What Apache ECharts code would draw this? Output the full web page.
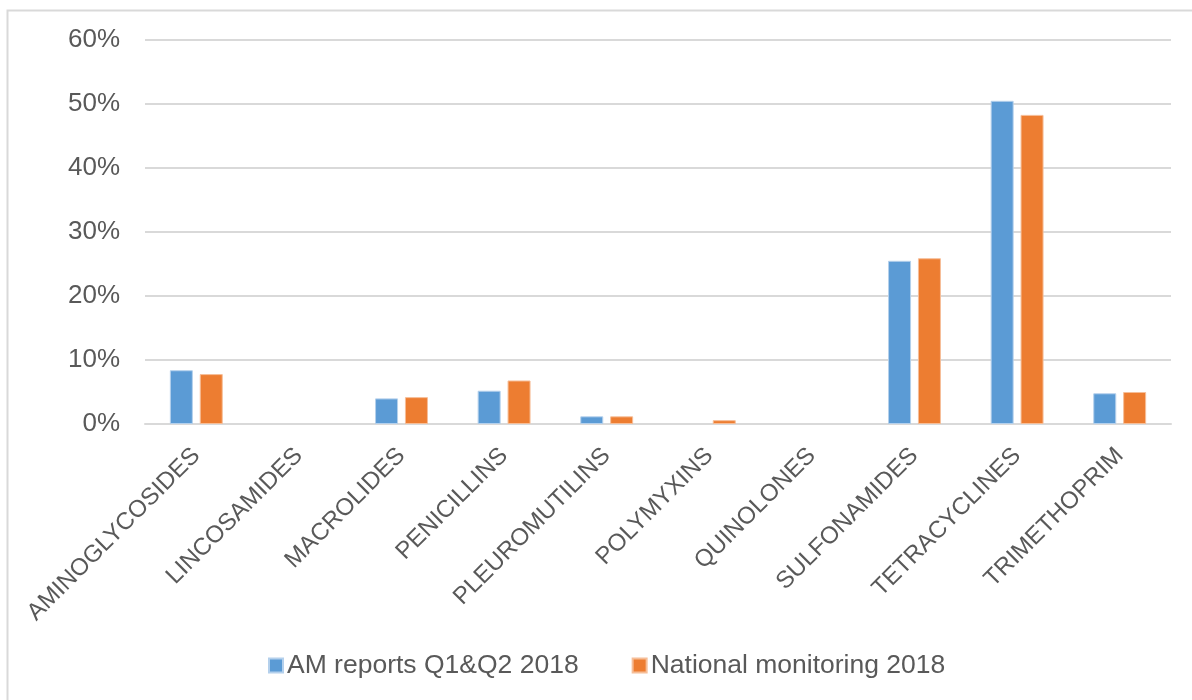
<!DOCTYPE html>
<html>
<head>
<meta charset="utf-8">
<script src="https://cdn.jsdelivr.net/npm/echarts@6/dist/echarts.min.js"></script>
<style>
  html, body { margin: 0; padding: 0; background: #ffffff; }
  #chart { width: 1192px; height: 700px; }
</style>
</head>
<body>
<div id="chart"></div>
<script>
// Antimicrobial classes (share of total use, %)
const categories = ['AMINOGLYCOSIDES', 'LINCOSAMIDES', 'MACROLIDES', 'PENICILLINS', 'PLEUROMUTILINS',
  'POLYMYXINS', 'QUINOLONES', 'SULFONAMIDES', 'TETRACYCLINES', 'TRIMETHOPRIM'];
const amReports = [8.4, 0, 4.0, 5.2, 1.2, 0, 0, 25.5, 50.5, 4.8];
const nationalMonitoring = [7.8, 0, 4.2, 6.8, 1.2, 0.6, 0, 25.9, 48.3, 5.0];
const seriesNames = ['AM reports Q1&Q2 2018', 'National monitoring 2018'];
const yTicks = { min: 0, max: 60, interval: 10 };

const chart = echarts.init(document.getElementById('chart'));
const textColor = '#595959';
const gridColor = '#d9d9d9';
const font = '"Liberation Sans", Arial, sans-serif';

// zero-height bars get no outline so nothing shows on the baseline
const barData = values => values.map(v => (v === 0 ? { value: v, itemStyle: { borderWidth: 0 } } : v));

chart.setOption({
  animation: false,
  backgroundColor: '#ffffff',
  graphic: [{
    type: 'rect',
    shape: { x: 7.5, y: 10.5, width: 1200, height: 700 },
    style: { fill: 'none', stroke: gridColor, lineWidth: 2 },
    silent: true
  }],
  grid: { left: 145, right: 21, top: 40, bottom: 276, containLabel: false },
  legend: {
    top: 652,
    left: 268,
    padding: 0,
    itemWidth: 14,
    itemHeight: 14,
    itemGap: 53,
    icon: 'rect',
    textStyle: { color: textColor, fontSize: 26.5, fontFamily: font, padding: [0, 0, 0, -1] },
    data: seriesNames
  },
  xAxis: {
    type: 'category',
    data: categories,
    axisLine: { lineStyle: { color: gridColor, width: 2 } },
    axisTick: { show: false },
    axisLabel: {
      rotate: 45, color: textColor, fontSize: 24, fontFamily: font,
      margin: 28, interval: 0
    }
  },
  yAxis: {
    type: 'value',
    min: yTicks.min,
    max: yTicks.max,
    interval: yTicks.interval,
    axisLine: { show: false },
    axisTick: { show: false },
    splitLine: { lineStyle: { color: gridColor, width: 2 } },
    axisLabel: { formatter: '{value}%', color: textColor, fontSize: 26, fontFamily: font, margin: 25 }
  },
  series: [
    {
      name: seriesNames[0],
      type: 'bar',
      data: barData(amReports),
      barWidth: 23,
      barGap: '30%',
      itemStyle: { color: '#5b9bd5', borderColor: '#b4d0ec', borderWidth: 1 }
    },
    {
      name: seriesNames[1],
      type: 'bar',
      data: barData(nationalMonitoring),
      barWidth: 23,
      barGap: '30%',
      itemStyle: { color: '#ed7d31', borderColor: '#f6be98', borderWidth: 1 }
    }
  ]
});
</script>
</body>
</html>
